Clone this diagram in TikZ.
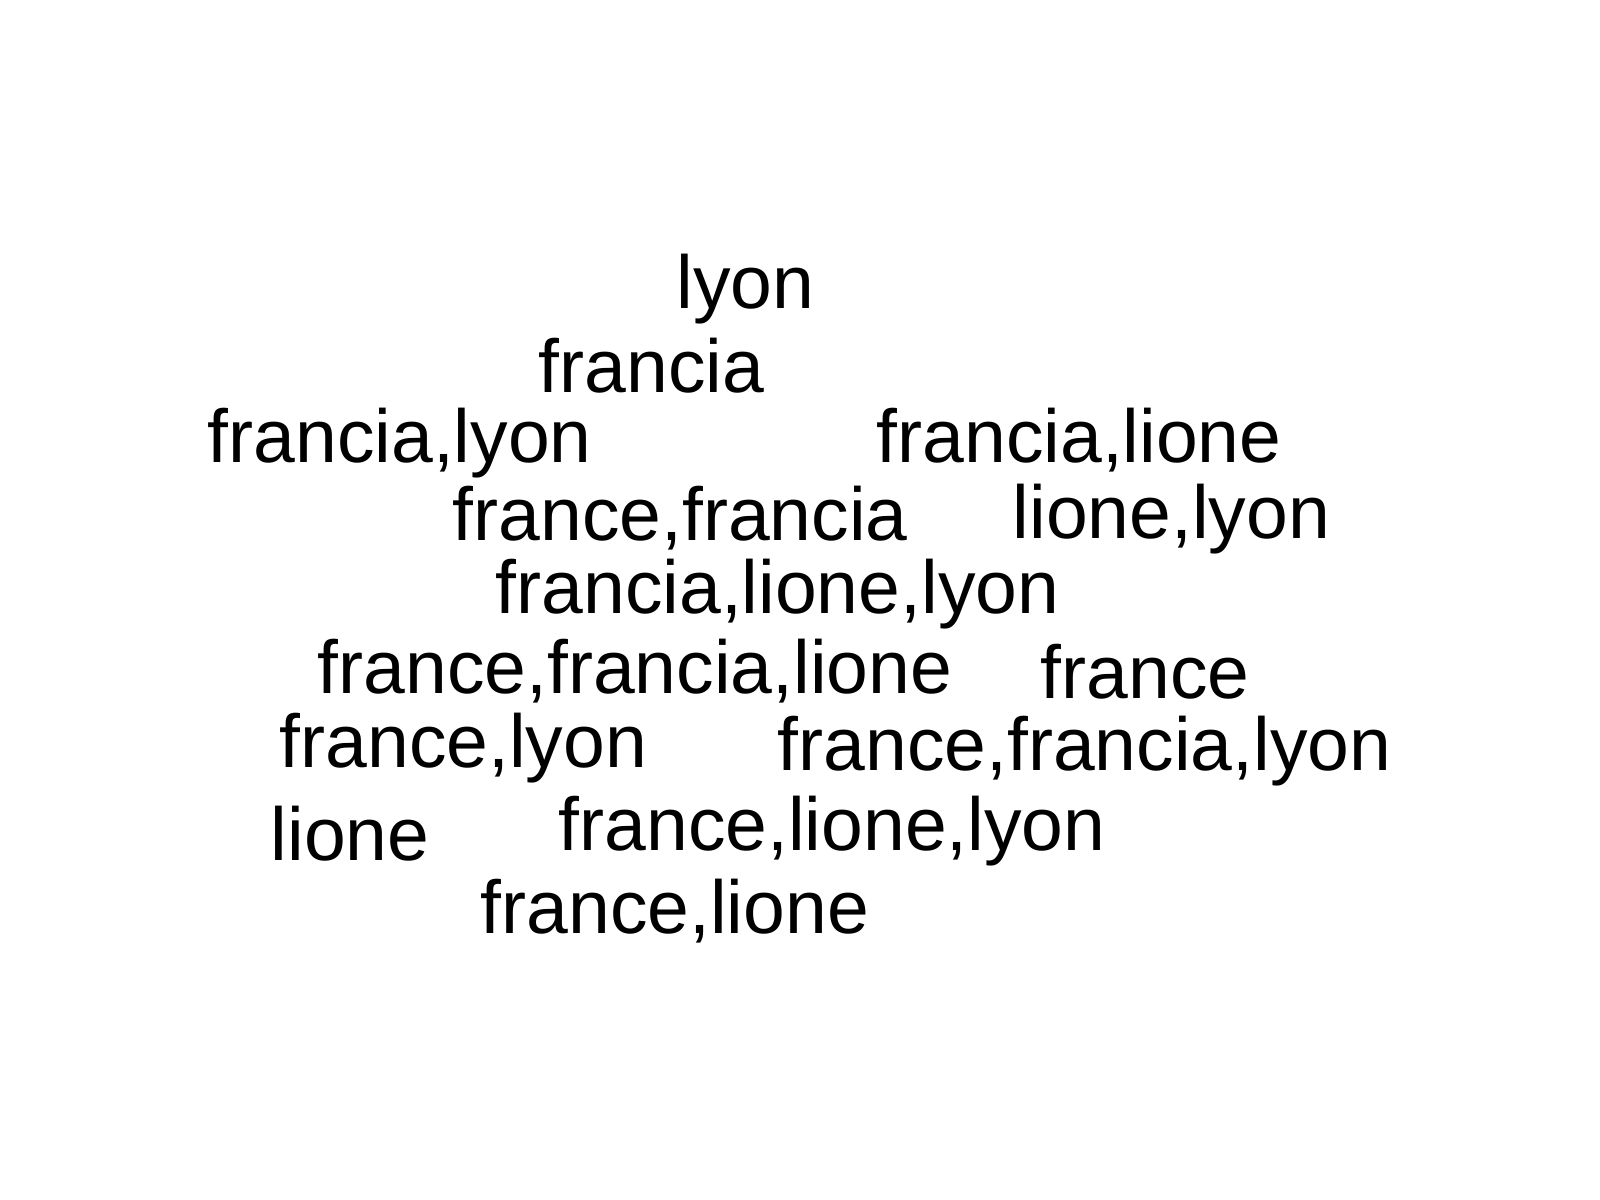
\documentclass[tikz,border=0pt]{standalone}
\usepackage{fontspec}
\setmainfont{Liberation Sans}
\begin{document}
\begin{tikzpicture}[x=0.01cm,y=-0.01cm,
  word/.style={anchor=base west,inner sep=0pt,font=\fontsize{21.35}{26}\selectfont}]
\useasboundingbox (0,0) rectangle (1600,1200);
\node[word] (w1) at (676,308) {lyon};
\node[word] (w2) at (538,392) {francia};
\node[word] (w3) at (207,462) {francia,lyon};
\node[word] (w4) at (876,462) {francia,lione};
\node[word] (w5) at (452,540) {france,francia};
\node[word] (w6) at (1012,538) {lione,lyon};
\node[word] (w7) at (495,613) {francia,lione,lyon};
\node[word] (w8) at (317,693) {france,francia,lione};
\node[word] (w9) at (1040,698) {france};
\node[word] (w10) at (279,767) {france,lyon};
\node[word] (w11) at (777,770) {france,francia,lyon};
\node[word] (w12) at (270,860) {lione};
\node[word] (w13) at (558,850) {france,lione,lyon};
\node[word] (w14) at (480,933) {france,lione};
\end{tikzpicture}
\end{document}
